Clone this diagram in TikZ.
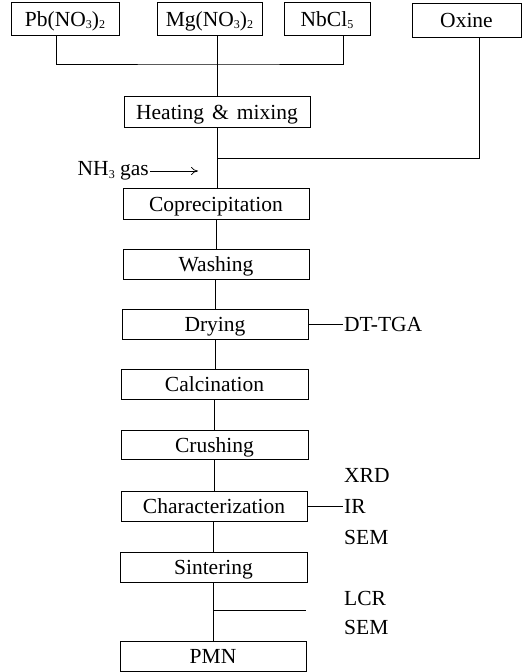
\documentclass[tikz,border=0pt]{standalone}
\usepackage{fontspec}
\setmainfont{Liberation Serif}
\usetikzlibrary{arrows.meta}
\begin{document}
\begin{tikzpicture}[x=1pt,y=-1pt,
  proc/.style={draw,line width=0.8pt,minimum height=30pt,inner sep=0pt,text height=17pt,text depth=2pt,font=\fontsize{21.5}{23}\selectfont},
  lab/.style={inner sep=1pt,font=\fontsize{21.5}{23}\selectfont},
  conn/.style={line width=0.7pt}]
\newcommand{\sbs}[1]{\raisebox{-0.25ex}{\fontsize{12}{12}\selectfont #1}}
\useasboundingbox (0,0) rectangle (526,672);
% top row
\node[proc,minimum width=108pt,minimum height=33pt] (pb) at (65,18.5) {Pb(NO\sbs{3})\sbs{2}};
\node[proc,minimum width=105pt,minimum height=33pt] (mg) at (209.5,18.5) {Mg(NO\sbs{3})\sbs{2}};
\node[proc,minimum width=86pt,minimum height=33pt] (nb) at (327,18.5) {NbCl\sbs{5}};
\node[proc,minimum width=109pt,minimum height=34pt] (ox) at (466.5,20) {Oxine};
% main column
\node[proc,minimum width=186pt,minimum height=31pt] (heat) at (217,111.5) {Heating\hspace{8pt}\&\hspace{8pt}mixing};
\node[proc,minimum width=186pt,minimum height=31pt] (cop) at (216,203.5) {Coprecipitation};
\node[proc,minimum width=186pt] (wash) at (216,264) {Washing};
\node[proc,minimum width=186pt] (dry) at (215,324) {Drying};
\node[proc,minimum width=187pt] (calc) at (214.5,384) {Calcination};
\node[proc,minimum width=187pt,minimum height=29pt] (crush) at (214.5,444.5) {Crushing};
\node[proc,minimum width=186pt] (char) at (214,506) {Characterization};
\node[proc,minimum width=187pt] (sint) at (213.5,567) {Sintering};
\node[proc,minimum width=186pt] (pmn) at (213,656) {PMN};
% side labels
\node[lab,anchor=east] (nh3) at (150,171) {NH\sbs{3} gas};
\coordinate (nh3end) at (198,171);
\node[lab,anchor=west] (dtga) at (343,324) {DT-TGA};
\node[lab,anchor=west] (xrd) at (343,475) {XRD};
\node[lab,anchor=west] (ir) at (343,506) {IR};
\node[lab,anchor=west] (sem1) at (343,537) {SEM};
\node[lab,anchor=west] (lcr) at (343,598) {LCR};
\node[lab,anchor=west] (sem2) at (343,627) {SEM};
% junctions
\coordinate (j1) at (217,64);
\coordinate (j2) at (217,158);
\coordinate (j3) at (213,610);
\coordinate (j3e) at (306,610);
% connectors
\draw[conn] (pb.south -| 56,0) |- (j1) -| (nb.south -| 343,0);
\draw[conn] (mg.south -| j1) -- (heat.north -| j1);
\draw[conn] (heat.south -| j1) -- (cop.north -| j1);
\draw[conn] (ox.south -| 479,0) |- (j2);
\draw[conn,-{To[length=7pt,width=8pt]}] (nh3.east) -- (nh3end);
\draw[conn] (cop.south -| 216,0) -- (wash.north -| 216,0);
\draw[conn] (wash.south -| 215.5,0) -- (dry.north -| 215.5,0);
\draw[conn] (dry.south -| 215,0) -- (calc.north -| 215,0);
\draw[conn] (calc.south -| 214.5,0) -- (crush.north -| 214.5,0);
\draw[conn] (crush.south -| 214,0) -- (char.north -| 214,0);
\draw[conn] (char.south -| 213.5,0) -- (sint.north -| 213.5,0);
\draw[conn] (sint.south -| j3) -- (pmn.north -| j3);
\draw[conn] (j3) -- (j3e);
\draw[conn] (dry.east) -- (dtga.west);
\draw[conn] (char.east) -- (ir.west);
\end{tikzpicture}
\end{document}
